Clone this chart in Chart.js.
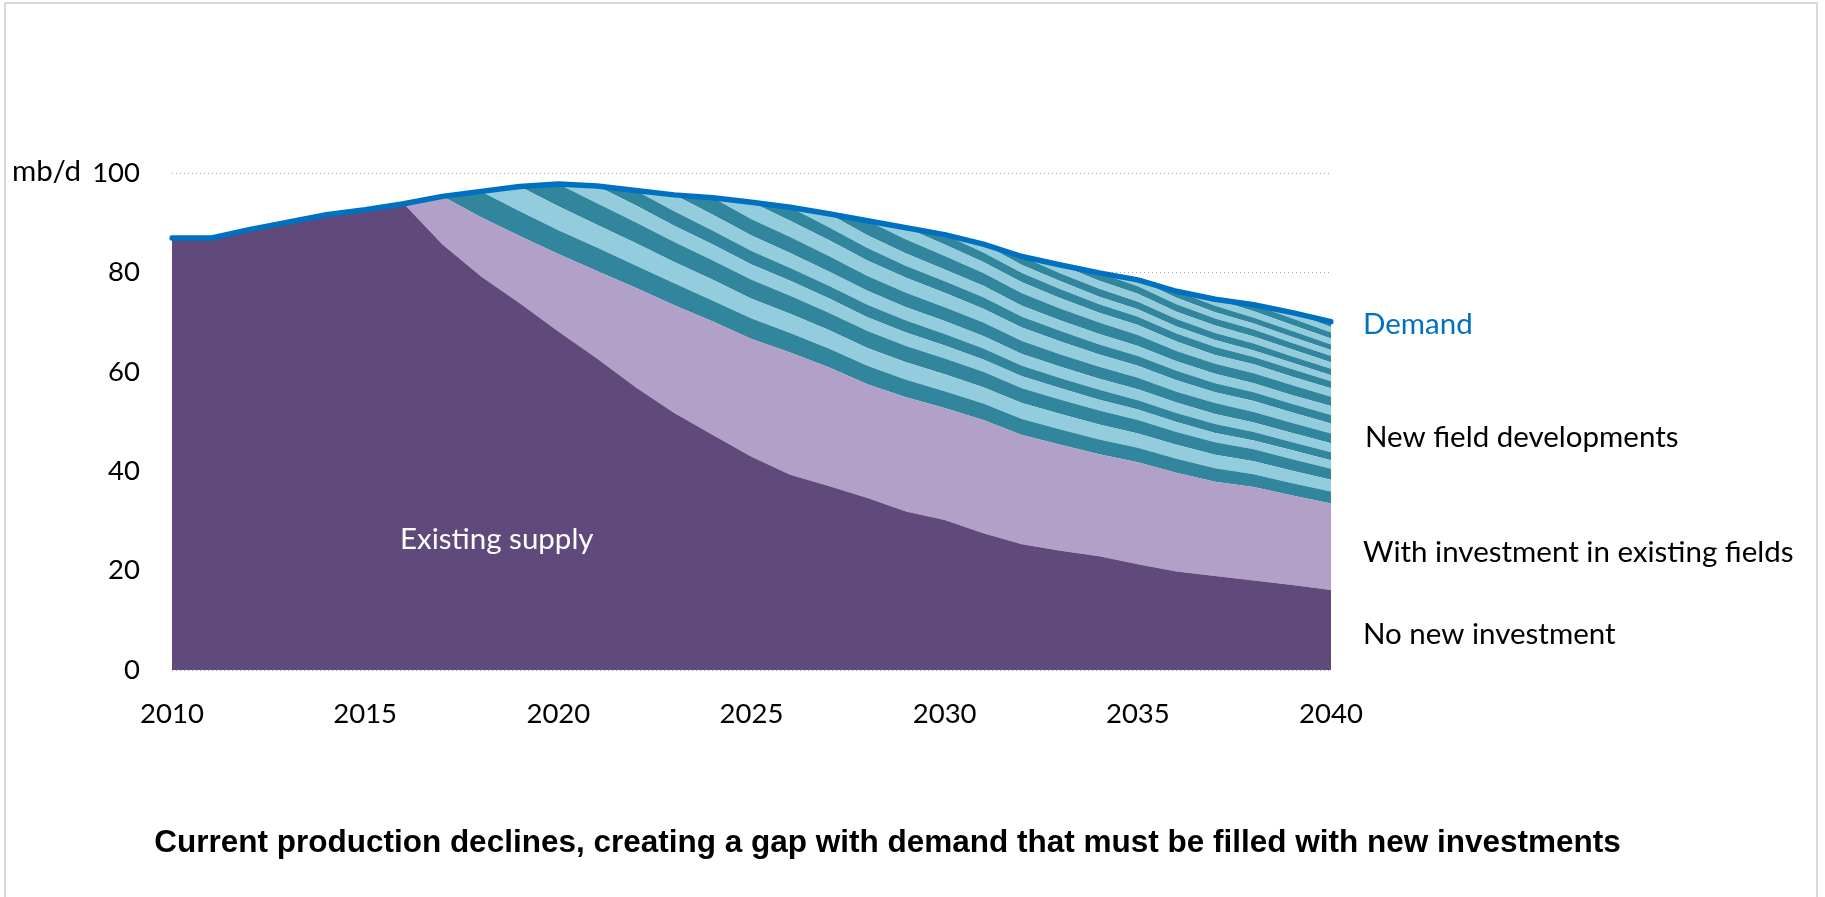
<!DOCTYPE html>
<html>
<head>
<meta charset="utf-8">
<title>Oil supply and demand, 2010-2040</title>
<script src="https://cdn.jsdelivr.net/npm/chart.js@4.4.1/dist/chart.umd.min.js"></script>
<style>
  html, body { margin: 0; padding: 0; background: #ffffff; }
  #wrap { position: relative; width: 1825px; height: 897px; overflow: hidden; }
  #frame { position: absolute; left: 4px; top: 2px; width: 1814px; height: 1000px;
           border: 2px solid #d9d9d9; box-sizing: border-box; }
  #c { position: absolute; left: 0; top: 0; }
</style>
</head>
<body>
<div id="wrap">
  <div id="frame"></div>
  <canvas id="c" width="1825" height="897"></canvas>
</div>
<script>
// Years on the horizontal axis
const years = [2010, 2011, 2012, 2013, 2014, 2015, 2016, 2017, 2018, 2019, 2020,
               2021, 2022, 2023, 2024, 2025, 2026, 2027, 2028, 2029, 2030,
               2031, 2032, 2033, 2034, 2035, 2036, 2037, 2038, 2039, 2040];

// Oil demand, mb/d
const demand = [86.9, 86.9, 88.6, 90.1, 91.6, 92.6, 93.8, 95.3, 96.3, 97.3, 97.8,
                97.4, 96.5, 95.6, 95.0, 94.1, 93.1, 91.8, 90.4, 89.0, 87.6,
                85.7, 83.2, 81.5, 79.9, 78.5, 76.2, 74.6, 73.5, 71.9, 70.1];

// Existing supply with no new investment, mb/d
const noNewInvestment = [86.9, 86.9, 88.6, 90.1, 91.6, 92.6, 93.8, 85.6, 79.2, 73.8, 68.1,
                         62.7, 56.9, 51.7, 47.3, 42.9, 39.3, 37.0, 34.6, 31.9, 30.2,
                         27.5, 25.3, 24.0, 22.9, 21.3, 19.8, 18.9, 18.0, 17.1, 16.1];

// Additional supply from investment in existing fields, mb/d
const existingFieldInvestment = [0, 0, 0, 0, 0, 0, 0, 9.7, 11.9, 13.5, 15.6,
                                 17.6, 20.0, 21.7, 22.8, 23.7, 24.6, 23.9, 22.9, 23.0, 22.5,
                                 22.8, 22.0, 21.3, 20.5, 20.5, 19.9, 19.0, 18.8, 18.0, 17.4];

// New field developments, one band per start year (2018 ... 2040), mb/d
const newField2018 = [0, 0, 0, 0, 0, 0, 0, 0, 5.2, 5.0, 4.8, 4.7, 4.5, 4.4, 4.2, 4.1, 3.9, 3.8, 3.7, 3.5, 3.4, 3.3, 3.2, 3.1, 3.0, 2.9, 2.8, 2.7, 2.6, 2.5, 2.4];
const newField2019 = [0, 0, 0, 0, 0, 0, 0, 0, 0, 5.0, 4.8, 4.6, 4.5, 4.3, 4.2, 4.0, 3.9, 3.7, 3.6, 3.5, 3.4, 3.3, 3.2, 3.1, 3.0, 2.9, 2.8, 2.7, 2.6, 2.5, 2.4];
const newField2020 = [0, 0, 0, 0, 0, 0, 0, 0, 0, 0, 4.5, 4.3, 4.2, 4.0, 3.9, 3.8, 3.6, 3.5, 3.4, 3.3, 3.2, 3.1, 3.0, 2.9, 2.8, 2.7, 2.6, 2.5, 2.4, 2.3, 2.2];
const newField2021 = [0, 0, 0, 0, 0, 0, 0, 0, 0, 0, 0, 3.5, 3.4, 3.3, 3.2, 3.1, 3.0, 2.9, 2.8, 2.7, 2.6, 2.5, 2.4, 2.3, 2.2, 2.1, 2.0, 1.9, 1.8, 1.8, 1.7];
const newField2022 = [0, 0, 0, 0, 0, 0, 0, 0, 0, 0, 0, 0, 3.0, 2.9, 2.8, 2.7, 2.6, 2.5, 2.5, 2.4, 2.3, 2.2, 2.1, 2.0, 2.0, 1.9, 1.8, 1.8, 1.7, 1.6, 1.6];
const newField2023 = [0, 0, 0, 0, 0, 0, 0, 0, 0, 0, 0, 0, 0, 3.3, 3.2, 3.1, 3.0, 2.9, 2.8, 2.7, 2.6, 2.5, 2.4, 2.3, 2.2, 2.2, 2.1, 2.0, 1.9, 1.9, 1.8];
const newField2024 = [0, 0, 0, 0, 0, 0, 0, 0, 0, 0, 0, 0, 0, 0, 3.4, 3.3, 3.2, 3.1, 3.0, 2.9, 2.8, 2.7, 2.6, 2.5, 2.4, 2.3, 2.2, 2.2, 2.1, 2.0, 2.0];
const newField2025 = [0, 0, 0, 0, 0, 0, 0, 0, 0, 0, 0, 0, 0, 0, 0, 3.4, 3.3, 3.2, 3.1, 3.0, 2.9, 2.8, 2.7, 2.6, 2.5, 2.4, 2.3, 2.2, 2.2, 2.1, 2.0];
const newField2026 = [0, 0, 0, 0, 0, 0, 0, 0, 0, 0, 0, 0, 0, 0, 0, 0, 2.7, 2.6, 2.5, 2.4, 2.3, 2.3, 2.2, 2.1, 2.0, 2.0, 1.9, 1.8, 1.8, 1.7, 1.7];
const newField2027 = [0, 0, 0, 0, 0, 0, 0, 0, 0, 0, 0, 0, 0, 0, 0, 0, 0, 2.7, 2.6, 2.5, 2.4, 2.3, 2.2, 2.1, 2.1, 2.0, 1.9, 1.9, 1.8, 1.8, 1.8];
const newField2028 = [0, 0, 0, 0, 0, 0, 0, 0, 0, 0, 0, 0, 0, 0, 0, 0, 0, 0, 2.9, 2.8, 2.7, 2.6, 2.5, 2.4, 2.3, 2.2, 2.1, 2.0, 2.0, 2.0, 1.9];
const newField2029 = [0, 0, 0, 0, 0, 0, 0, 0, 0, 0, 0, 0, 0, 0, 0, 0, 0, 0, 0, 2.4, 2.3, 2.2, 2.2, 2.1, 2.0, 2.0, 1.9, 1.8, 1.8, 1.7, 1.7];
const newField2030 = [0, 0, 0, 0, 0, 0, 0, 0, 0, 0, 0, 0, 0, 0, 0, 0, 0, 0, 0, 0, 2.0, 1.9, 1.9, 1.8, 1.7, 1.7, 1.6, 1.6, 1.5, 1.5, 1.4];
const newField2031 = [0, 0, 0, 0, 0, 0, 0, 0, 0, 0, 0, 0, 0, 0, 0, 0, 0, 0, 0, 0, 0, 1.7, 1.6, 1.6, 1.5, 1.5, 1.4, 1.4, 1.3, 1.3, 1.2];
const newField2032 = [0, 0, 0, 0, 0, 0, 0, 0, 0, 0, 0, 0, 0, 0, 0, 0, 0, 0, 0, 0, 0, 0, 1.7, 1.6, 1.6, 1.5, 1.5, 1.4, 1.4, 1.3, 1.3];
const newField2033 = [0, 0, 0, 0, 0, 0, 0, 0, 0, 0, 0, 0, 0, 0, 0, 0, 0, 0, 0, 0, 0, 0, 0, 1.7, 1.6, 1.6, 1.5, 1.5, 1.4, 1.4, 1.3];
const newField2034 = [0, 0, 0, 0, 0, 0, 0, 0, 0, 0, 0, 0, 0, 0, 0, 0, 0, 0, 0, 0, 0, 0, 0, 0, 1.6, 1.5, 1.5, 1.4, 1.4, 1.3, 1.3];
const newField2035 = [0, 0, 0, 0, 0, 0, 0, 0, 0, 0, 0, 0, 0, 0, 0, 0, 0, 0, 0, 0, 0, 0, 0, 0, 0, 1.3, 1.3, 1.3, 1.2, 1.2, 1.2];
const newField2036 = [0, 0, 0, 0, 0, 0, 0, 0, 0, 0, 0, 0, 0, 0, 0, 0, 0, 0, 0, 0, 0, 0, 0, 0, 0, 0, 1.3, 1.3, 1.2, 1.2, 1.1];
const newField2037 = [0, 0, 0, 0, 0, 0, 0, 0, 0, 0, 0, 0, 0, 0, 0, 0, 0, 0, 0, 0, 0, 0, 0, 0, 0, 0, 0, 1.3, 1.3, 1.2, 1.2];
const newField2038 = [0, 0, 0, 0, 0, 0, 0, 0, 0, 0, 0, 0, 0, 0, 0, 0, 0, 0, 0, 0, 0, 0, 0, 0, 0, 0, 0, 0, 1.3, 1.3, 1.2];
const newField2039 = [0, 0, 0, 0, 0, 0, 0, 0, 0, 0, 0, 0, 0, 0, 0, 0, 0, 0, 0, 0, 0, 0, 0, 0, 0, 0, 0, 0, 0, 1.2, 1.1];
const newField2040 = [0, 0, 0, 0, 0, 0, 0, 0, 0, 0, 0, 0, 0, 0, 0, 0, 0, 0, 0, 0, 0, 0, 0, 0, 0, 0, 0, 0, 0, 0, 1.1];

const newFieldBands = [newField2018, newField2019, newField2020, newField2021, newField2022,
                       newField2023, newField2024, newField2025, newField2026, newField2027,
                       newField2028, newField2029, newField2030, newField2031, newField2032,
                       newField2033, newField2034, newField2035, newField2036, newField2037,
                       newField2038, newField2039, newField2040];

// Text drawn on the chart
const unitLabel = 'mb/d';
const seriesLabels = {
  demand: 'Demand',
  newFields: 'New field developments',
  withInvestment: 'With investment in existing fields',
  noInvestment: 'No new investment',
  existing: 'Existing supply'
};
const chartCaption = 'Current production declines, creating a gap with demand that must be filled with new investments';

// Colours
const DARK_PURPLE = '#604a7b';
const LIGHT_PURPLE = '#b1a0c7';
const TEAL = '#31859c';
const LIGHT_BLUE = '#93cddd';
const DEMAND_BLUE = '#0070c0';
const LABEL_FONT = 'Lato, "Open Sans", sans-serif';

function areaDataset(label, data, color, fill) {
  return {
    label, data, fill,
    backgroundColor: color,
    borderColor: 'rgba(0,0,0,0)',
    borderWidth: 0,
    pointRadius: 0,
    pointHoverRadius: 0,
    stack: 'supply',
    order: 1
  };
}

const datasets = [
  {
    label: seriesLabels.demand,
    data: demand,
    fill: false,
    borderColor: DEMAND_BLUE,
    borderWidth: 5.5,
    borderCapStyle: 'round',
    borderJoinStyle: 'round',
    pointRadius: 0,
    pointHoverRadius: 0,
    stack: 'demand',
    order: 0
  },
  areaDataset(seriesLabels.noInvestment, noNewInvestment, DARK_PURPLE, 'origin'),
  areaDataset(seriesLabels.withInvestment, existingFieldInvestment, LIGHT_PURPLE, '-1'),
  ...newFieldBands.map((band, i) =>
    areaDataset(seriesLabels.newFields + ' ' + (2018 + i), band, i % 2 === 0 ? TEAL : LIGHT_BLUE, '-1'))
];

// Labels beside and inside the areas, the unit and the caption
const annotationPlugin = {
  id: 'annotations',
  afterDraw(chart) {
    const { ctx, chartArea } = chart;
    const right = chartArea.right;
    ctx.save();
    ctx.textBaseline = 'alphabetic';
    ctx.textAlign = 'left';

    ctx.font = '29.5px ' + LABEL_FONT;
    ctx.fillStyle = DEMAND_BLUE;
    ctx.fillText(seriesLabels.demand, right + 32, 334);

    ctx.fillStyle = '#000000';
    ctx.fillText(seriesLabels.newFields, right + 34, 447);
    ctx.fillText(seriesLabels.withInvestment, right + 32, 562);
    ctx.fillText(seriesLabels.noInvestment, right + 32, 644);

    ctx.fillStyle = '#ffffff';
    ctx.fillText(seriesLabels.existing, 400, 549);

    ctx.fillStyle = '#000000';
    ctx.font = '29.5px ' + LABEL_FONT;
    ctx.fillText(unitLabel, 12, 181);

    ctx.font = 'bold 31.5px "Liberation Sans", Arial, sans-serif';
    ctx.textAlign = 'center';
    ctx.fillText(chartCaption, 887.5, 852);
    ctx.restore();
  }
};

new Chart(document.getElementById('c'), {
  type: 'line',
  data: { labels: years.map(String), datasets },
  plugins: [annotationPlugin],
  options: {
    responsive: false,
    animation: false,
    devicePixelRatio: 1,
    layout: { padding: { left: 0, right: 494, top: 173, bottom: 167 } },
    elements: { line: { tension: 0 }, point: { radius: 0 } },
    plugins: {
      legend: { display: false },
      tooltip: { enabled: false },
      title: { display: false }
    },
    scales: {
      x: {
        type: 'category',
        offset: false,
        grid: { display: false },
        border: { display: false },
        ticks: {
          autoSkip: false,
          maxRotation: 0,
          padding: 20,
          color: '#000000',
          font: { family: LABEL_FONT, size: 27.5 },
          callback: (value, index) => (years[index] % 5 === 0 ? String(years[index]) : '')
        },
        afterFit: (scale) => { scale.height = 60; }
      },
      y: {
        stacked: true,
        min: 0,
        max: 100,
        grid: { color: '#a6a6a6', lineWidth: 1, drawTicks: false },
        border: { display: false, dash: [1, 3] },
        ticks: {
          stepSize: 20,
          padding: 32,
          color: '#000000',
          font: { family: LABEL_FONT, size: 27.5 }
        },
        afterFit: (scale) => { scale.width = 172; }
      }
    }
  }
});
</script>
</body>
</html>
